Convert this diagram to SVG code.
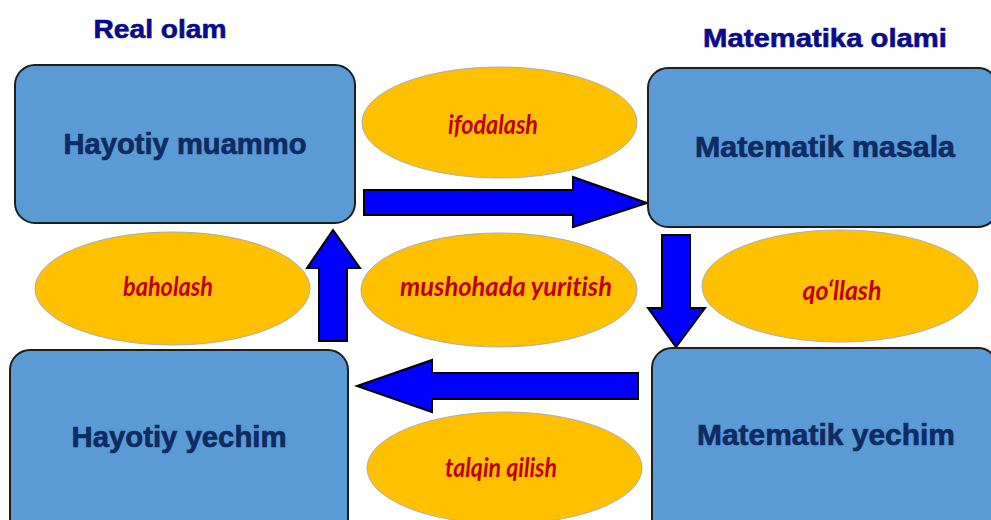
<svg xmlns="http://www.w3.org/2000/svg" width="991" height="520" viewBox="0 0 991 520">
<style>
.box{fill:#5B9BD5;stroke:#1E1E1E;stroke-width:2}
.bt{font-family:"Liberation Sans",Arial,sans-serif;font-weight:bold;font-size:29px;fill:#0F2B63;stroke:#0F2B63;stroke-width:0.7;text-anchor:middle}
.title{font-family:"Liberation Sans",Arial,sans-serif;font-weight:bold;font-size:26px;fill:#0A0A8C;stroke:#0A0A8C;stroke-width:0.6;text-anchor:middle}
.ell{fill:#FFC000;stroke:#A8AEB4;stroke-width:1}
.lt{font-family:Lato,"Open Sans",sans-serif;font-style:italic;font-weight:bold;font-size:26px;fill:#C00000;text-anchor:middle;font-variant-ligatures:none}
.arr{fill:#0000FF;stroke:#000;stroke-width:2;stroke-linejoin:miter}
</style>
<rect width="991" height="520" fill="#fff"/>
<text class="title" x="160" y="38" textLength="133" lengthAdjust="spacingAndGlyphs">Real olam</text>
<text class="title" x="825" y="47" textLength="244" lengthAdjust="spacingAndGlyphs">Matematika olami</text>
<g id="connectors">
<polygon class="arr" points="364,190 573,190 573,177 647,203 573,227 573,215 364,215"/>
<polygon class="arr" points="638,373 432,373 432,360 357,386 432,412 432,399 638,399"/>
<polygon class="arr" points="319,341 319,268 307,268 333,230 360,268 347,268 347,341"/>
<polygon class="arr" points="662,235 690,235 690,308 705,308 676,347 648,308 662,308"/>
</g>
<g id="n1"><rect class="box" x="15" y="65" width="340" height="158" rx="20"/><text class="bt" x="185" y="154" textLength="243" lengthAdjust="spacingAndGlyphs">Hayotiy muammo</text></g>
<g id="n2"><rect class="box" x="648" y="68" width="350" height="159" rx="20"/><text class="bt" x="825" y="157" textLength="260" lengthAdjust="spacingAndGlyphs">Matematik  masala</text></g>
<g id="n3"><rect class="box" x="10" y="350" width="338" height="190" rx="20"/><text class="bt" x="179" y="447" textLength="215" lengthAdjust="spacingAndGlyphs">Hayotiy yechim</text></g>
<g id="n4"><rect class="box" x="652" y="348" width="346" height="192" rx="20"/><text class="bt" x="826" y="445" textLength="258" lengthAdjust="spacingAndGlyphs">Matematik  yechim</text></g>
<g id="e1"><ellipse class="ell" cx="499.5" cy="122.5" rx="137.5" ry="55.5"/><text class="lt" x="493" y="134" textLength="90" lengthAdjust="spacingAndGlyphs">ifodalash</text></g>
<g id="e2"><ellipse class="ell" cx="499" cy="290" rx="138" ry="57"/><text class="lt" x="506" y="296" textLength="212" lengthAdjust="spacingAndGlyphs">mushohada yuritish</text></g>
<g id="e3"><ellipse class="ell" cx="504.5" cy="468" rx="137.5" ry="56"/><text class="lt" x="501" y="477" textLength="112" lengthAdjust="spacingAndGlyphs">talqin qilish</text></g>
<g id="e4"><ellipse class="ell" cx="172.5" cy="288.5" rx="137.5" ry="56.5"/><text class="lt" x="168" y="296" textLength="90" lengthAdjust="spacingAndGlyphs">baholash</text></g>
<g id="e5"><ellipse class="ell" cx="840" cy="286" rx="138" ry="56"/><text class="lt" x="842" y="300" textLength="79" lengthAdjust="spacingAndGlyphs">qo‘llash</text></g>
</svg>
